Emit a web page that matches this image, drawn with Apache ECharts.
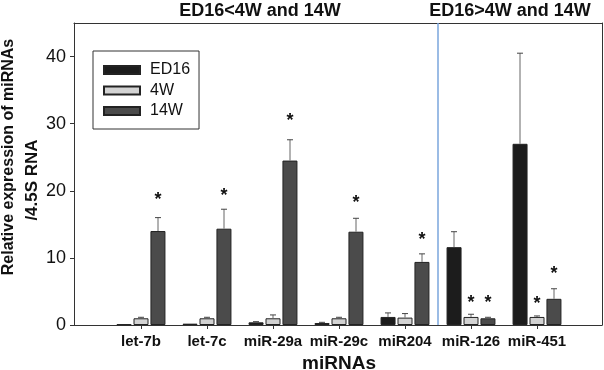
<!DOCTYPE html>
<html>
<head>
<meta charset="utf-8">
<script src="https://cdn.jsdelivr.net/npm/echarts@6/dist/echarts.min.js"></script>
<style>html,body{margin:0;padding:0;background:#fff;}#c{width:604px;height:370px;}</style>
</head>
<body>
<div id="c"></div>
<script>
const categories = ['let-7b', 'let-7c', 'miR-29a', 'miR-29c', 'miR204', 'miR-126', 'miR-451'];
const seriesNames = ['ED16', '4W', '14W'];
const ed16 = [0.1, 0.2, 0.4, 0.3, 1.2, 11.6, 27.0];
const ed16Err = [0, 0, 0.1, 0.1, 0.6, 2.3, 13.5];
const ed16Star = [null, null, null, null, null, null, null];
const w4 = [1.0, 1.0, 1.0, 1.0, 1.1, 1.2, 1.2];
const w4Err = [0.15, 0.15, 0.5, 0.15, 0.6, 0.4, 0.15];
const w4Star = [null, null, null, null, null, 3.7, 3.6];
const w14 = [14.0, 14.35, 24.5, 13.9, 9.4, 1.0, 3.9];
const w14Err = [2.0, 2.9, 3.1, 2.0, 1.2, 0.15, 1.5];
const w14Star = [19.1, 19.7, 30.8, 18.6, 13.1, 3.7, 8.1];
const yTicks = [0, 10, 20, 30, 40];
const groupSplitIndex = 5;
const groupTitles = ['ED16<4W and 14W', 'ED16>4W and 14W'];
const yTitle = ['Relative expression of miRNAs', '/4.5S RNA'];
const xTitle = 'miRNAs';

const FONT = 'Liberation Sans, Arial, sans-serif';
const fills = ['#1c1c1c', '#d3d3d3', '#4b4b4b'];
const BAR_W = 15, BAR_STEP = 17;

const vals = [ed16, w4, w14], errs = [ed16Err, w4Err, w14Err], stars = [ed16Star, w4Star, w14Star];

const chart = echarts.init(document.getElementById('c'));

const barSeries = seriesNames.map((n, k) => ({
  name: n, type: 'bar', xAxisIndex: 2, yAxisIndex: 2,
  data: vals[k], barWidth: BAR_W, barGap: '13%',
  itemStyle: { color: fills[k], borderColor: '#222', borderWidth: 1 },
  emphasis: { disabled: true }, z: 2
}));

const errSeries = seriesNames.map((n, k) => ({
  type: 'custom', xAxisIndex: 2, yAxisIndex: 2, z: 3, silent: true,
  data: categories.map((c, i) => [i, vals[k][i], errs[k][i], stars[k][i] == null ? -1 : stars[k][i]]),
  renderItem: function (params, api) {
    const ci = api.value(0), v = api.value(1), e = api.value(2), s = api.value(3);
    const b = api.coord([ci, v]);
    const x = b[0] + (k - 1) * BAR_STEP;
    const children = [];
    if (e > 0) {
      const t = api.coord([ci, v + e]);
      children.push({ type: 'line', shape: { x1: x, y1: b[1], x2: x, y2: t[1] }, style: { stroke: '#666', lineWidth: 1 } });
      children.push({ type: 'line', shape: { x1: x - 3, y1: t[1], x2: x + 3, y2: t[1] }, style: { stroke: '#444', lineWidth: 1 } });
    }
    if (s >= 0) {
      const p = api.coord([ci, s]);
      children.push({ type: 'text', x: x, y: p[1] + 3, style: { text: '*', font: 'bold 18px ' + FONT, fill: '#111', align: 'center', verticalAlign: 'middle' } });
    }
    return { type: 'group', children: children };
  }
}));

const dividerSeries = {
  type: 'line', xAxisIndex: 3, yAxisIndex: 2, data: [], silent: true,
  markLine: { symbol: 'none', silent: true, label: { show: false },
    lineStyle: { color: '#7aa6dc', width: 1.5, type: 'solid' },
    data: [{ xAxis: groupSplitIndex }] }
};

const frameLine = { show: true, onZero: false, lineStyle: { color: '#333', width: 1 } };

chart.setOption({
  animation: false,
  backgroundColor: '#fff',
  textStyle: { fontFamily: FONT },
  grid: [
    { left: 74, right: 2, top: 23, bottom: 45, outerBoundsMode: 'none', containLabel: false },
    { left: 108, right: 34, top: 23, bottom: 45, outerBoundsMode: 'none', containLabel: false }
  ],
  legend: {
    data: seriesNames, orient: 'vertical', left: 93, top: 51,
    padding: [11, 9, 10, 10], itemWidth: 36, itemHeight: 8, itemGap: 4.5, icon: 'rect',
    borderColor: '#333', borderWidth: 1,
    textStyle: { fontSize: 16, color: '#111', fontFamily: FONT, padding: [0, 0, 0, 5] }
  },
  xAxis: [
    { gridIndex: 0, type: 'value', min: 0, max: 1, position: 'bottom',
      axisLine: frameLine, axisTick: { show: false }, axisLabel: { show: false }, splitLine: { show: false } },
    { gridIndex: 0, type: 'value', min: 0, max: 1, position: 'top',
      axisLine: frameLine, axisTick: { show: false }, axisLabel: { show: false }, splitLine: { show: false } },
    { gridIndex: 1, type: 'category', data: categories, position: 'bottom',
      axisLine: { show: false },
      axisTick: { show: true, alignWithLabel: true, length: 4, lineStyle: { color: '#333' } },
      axisLabel: { interval: 0, fontSize: 15, fontWeight: 'bold', color: '#111', margin: 9, fontFamily: FONT },
      name: xTitle, nameLocation: 'middle', nameGap: 28,
      nameTextStyle: { fontSize: 19, fontWeight: 'bold', color: '#111', fontFamily: FONT },
      splitLine: { show: false } },
    { gridIndex: 1, type: 'value', min: 0, max: categories.length, show: false }
  ],
  yAxis: [
    { gridIndex: 0, type: 'value', min: 0, max: 45,
      axisLine: frameLine,
      axisTick: { show: true, length: 4, customValues: yTicks, lineStyle: { color: '#333' } },
      axisLabel: { customValues: yTicks, fontSize: 18, color: '#111', margin: 8, fontFamily: FONT },
      splitLine: { show: false } },
    { gridIndex: 0, type: 'value', min: 0, max: 45, position: 'right',
      axisLine: frameLine, axisTick: { show: false }, axisLabel: { show: false }, splitLine: { show: false } },
    { gridIndex: 1, type: 'value', min: 0, max: 45, show: false }
  ],
  graphic: [
    { type: 'text', x: 260, y: 11, style: { text: groupTitles[0], font: 'bold 18px ' + FONT, fill: '#111', align: 'center', verticalAlign: 'middle' } },
    { type: 'text', x: 510, y: 11, style: { text: groupTitles[1], font: 'bold 18px ' + FONT, fill: '#111', align: 'center', verticalAlign: 'middle' } },
    { type: 'text', x: 9, y: 157, rotation: Math.PI / 2, style: { text: yTitle[0], font: 'bold 16px ' + FONT, fill: '#111', align: 'center', verticalAlign: 'middle' } },
    { type: 'text', x: 32, y: 180, rotation: Math.PI / 2, style: { text: yTitle[1], font: 'bold 17px ' + FONT, fill: '#111', align: 'center', verticalAlign: 'middle' } }
  ],
  series: barSeries.concat(errSeries).concat([dividerSeries])
});
</script>
</body>
</html>
